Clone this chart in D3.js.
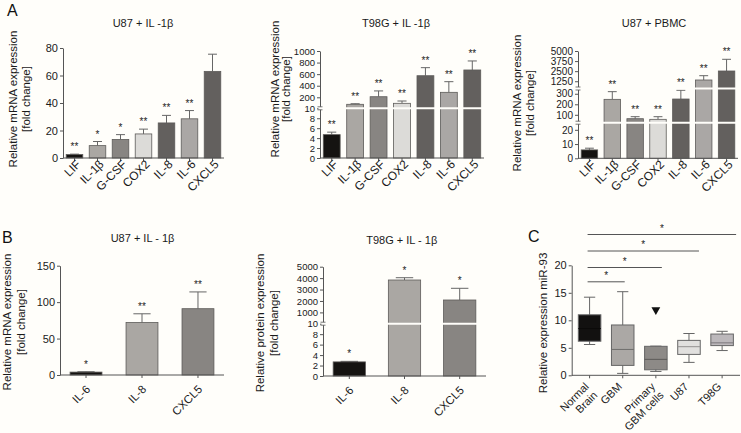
<!DOCTYPE html>
<html><head><meta charset="utf-8">
<script src="https://cdn.jsdelivr.net/npm/d3@7"></script>
<style>
body{margin:0;background:#fffefa;}
svg{display:block;font-family:"Liberation Sans",Arial,sans-serif;-webkit-font-smoothing:antialiased;}
</style></head><body>
<svg id="c" width="741" height="433"></svg>
<script>
// ---------------- DATA ----------------
const genesA = ["LIF","IL-1β","G-CSF","COX2","IL-8","IL-6","CXCL5"];
const u87IL1bMean = [2.5, 9, 13.5, 17.5, 25.5, 28.5, 63];
const u87IL1bSem  = [0.3, 3, 3.5, 3.5, 5.5, 6, 12.5];
const u87IL1bSig  = ["**","*","*","**","**","**",""];
const t98gIL1bMean = [4.7, 79, 210, 96, 573, 286, 672];
const t98gIL1bSem  = [0.5, 10, 100, 40, 139, 184, 156];
const t98gIL1bSig  = ["**","**","**","**","**","**","**"];
const u87PbmcMean = [5.9, 247, 63, 57, 250, 1404, 2520];
const u87PbmcSem  = [1.2, 73, 19, 25, 83, 533, 1451];
const u87PbmcSig  = ["**","**","**","**","**","**","**"];
const genesB = ["IL-6","IL-8","CXCL5"];
const u87MrnaMean = [4, 72, 91];
const u87MrnaSem  = [0.5, 12, 23];
const u87MrnaSig  = ["*","**","**"];
const t98gProtMean = [2.7, 3836, 2085];
const t98gProtSem  = [0.1, 200, 1024];
const t98gProtSig  = ["*","*","*"];
const ticksA1 = [0,20,40,60,80];
const ticksA2 = [0,2,4,6,8,10,200,400,600,800,1000];
const ticksA3 = [0,10,20,100,200,300,1250,2500,3750,5000];
const ticksB1 = [0,50,100,150];
const ticksB2 = [0,2,4,6,8,10,1000,2000,3000,4000,5000];
const groupsC = ["Normal\nBrain","GBM","Primary\nGBM cells","U87","T98G"];
const cMin = [5.6, 0.35, 0.7, 2.35, 4.5];
const cQ1  = [6.2, 1.8, 1.0, 3.8, 5.4];
const cMed = [8.5, 4.7, 2.9, 5.2, 5.9];
const cQ3  = [11.0, 9.15, 5.27, 6.35, 7.5];
const cMax = [14.2, 15.2, 5.3, 7.6, 8.0];
const cOutliers = [[],[],[11.9],[],[]];
const cCompTo = [1,2,3,4];
const cCompLevel = [17.0, 19.6, 22.6, 25.6];
const cCompSig = ["*","*","*","*"];
const ticksC = [0,5,10,15,20];

// ---------------- STYLE ----------------
const colA = ["#151311","#aaa7a3","#888582","#dcdbd8","#63605e","#aaa7a5","#63605e"];
const colB = ["#151311","#aaa7a3","#888582"];
const colC = ["#121110","#aba8a5","#8d8a87","#e1e0de","#bcb8bb"];
const AX = "#555", TXT = "#1a1a1a", BG = "#fffefa";

const svg = d3.select("#c");
svg.append("rect").attr("width",741).attr("height",433).attr("fill",BG);

function yAxis(g, y, x0, ticks, breaks, fs){
  const a = g.append("g").attr("transform",`translate(${x0},0)`)
    .call(d3.axisLeft(y).tickValues(ticks).tickSize(3).tickSizeOuter(0).tickFormat(d=>d).tickPadding(2));
  a.select(".domain").attr("stroke",AX);
  a.selectAll(".tick line").attr("stroke",AX);
  a.selectAll(".tick text").attr("fill",TXT).style("font-size",fs+"px").style("font-family","Liberation Sans, Arial");
  (breaks||[]).forEach(b=>{
    const yy = y(b);
    g.append("rect").attr("x",x0-1.5).attr("y",yy-1.5).attr("width",3).attr("height",3).attr("fill",BG);
    [-1.5,1.5].forEach(o=>g.append("line").attr("x1",x0-2.5).attr("x2",x0+2.5).attr("y1",yy+o).attr("y2",yy+o).attr("stroke",AX).attr("stroke-width",0.8));
  });
}
function xLabels(g, x, y0, cats, lab){
  cats.forEach(c=>{
    const lines = c.split("\n");
    const t = g.append("text")
      .attr("transform",`translate(${x(c)+x.bandwidth()/2+lab.dx},${y0+lab.dy}) rotate(-45)`)
      .attr("text-anchor","end").attr("fill",TXT).style("font-size",lab.fs+"px");
    lines.forEach((l,i)=>t.append("tspan").attr("x",0)
      .attr("dy", i===0 ? "0" : "1.1em").text(l));
  });
}
function yTitle(g, lines, cx, cy, gap){
  lines.forEach((l,i)=>g.append("text")
    .attr("transform",`translate(${cx+i*gap},${cy}) rotate(-90)`)
    .attr("text-anchor","middle").attr("dy","0.35em").attr("fill",TXT)
    .style("font-size","11.5px").text(l));
}
function title(g, t, x, y){
  g.append("text").attr("x",x).attr("y",y).attr("text-anchor","middle").attr("fill",TXT)
   .style("font-size","11px").text(t);
}
function barPanel(cfg){
  const g = svg.append("g");
  const x = d3.scaleBand().domain(cfg.cats).range([cfg.x0,cfg.x1]).paddingInner(cfg.pi).paddingOuter(cfg.po);
  const y = cfg.y, bw = x.bandwidth(), y0 = y(0);
  cfg.cats.forEach((c,i)=>{
    const m = cfg.mean[i], e = m + cfg.sem[i], cx = x(c)+bw/2;
    g.append("line").attr("x1",cx).attr("x2",cx).attr("y1",y(m)).attr("y2",y(e)).attr("stroke","#666").attr("stroke-width",1);
    g.append("line").attr("x1",cx-bw*0.27).attr("x2",cx+bw*0.27).attr("y1",y(e)).attr("y2",y(e)).attr("stroke","#666").attr("stroke-width",1);
    g.append("rect").attr("x",x(c)).attr("y",y(m)).attr("width",bw).attr("height",y0-y(m))
      .attr("fill",cfg.colors[i]).attr("stroke","#5d5b59").attr("stroke-width",0.8);
    if(cfg.sig[i]) g.append("text").attr("x",cx).attr("y",y(e)-4).attr("text-anchor","middle")
      .attr("fill","#222").style("font-size","10px").text(cfg.sig[i]);
  });
  (cfg.breaks||[]).forEach(b=>{
    g.append("line").attr("x1",cfg.x0+2).attr("x2",cfg.x1).attr("y1",y(b)).attr("y2",y(b))
      .attr("stroke",BG).attr("stroke-width",2);
  });
  const xa = g.append("g").attr("transform",`translate(0,${y0})`)
    .call(d3.axisBottom(x).tickSize(3).tickSizeOuter(0).tickFormat(""));
  xa.select(".domain").attr("stroke",AX).attr("d",`M${cfg.x0},0H${cfg.x1}`);
  xa.selectAll(".tick line").attr("stroke",AX);
  yAxis(g, y, cfg.x0, cfg.ticks, cfg.breaks, cfg.tfs);
  xLabels(g, x, y0, cfg.cats, cfg.lab);
  title(g, cfg.title, cfg.tx, cfg.ty);
  yTitle(g, cfg.ytitle, cfg.ycx, cfg.ycy, cfg.ygap);
}

const labA = {dx:7, dy:7, fs:12}, labB = {dx:5, dy:15, fs:11.5}, labC = {dx:0, dy:12, fs:11};

// Panel A
barPanel({cats:genesA, mean:u87IL1bMean, sem:u87IL1bSem, sig:u87IL1bSig, colors:colA,
  y:d3.scaleLinear().domain([0,80]).range([158,48]), ticks:ticksA1, lab:labA, tfs:11,
  x0:63, x1:224, pi:0.28, po:0.14, title:"U87 + IL -1β", tx:143, ty:27,
  ytitle:["Relative mRNA expression","[fold change]"], ycx:12.5, ycy:99, ygap:13});
barPanel({cats:genesA, mean:t98gIL1bMean, sem:t98gIL1bSem, sig:t98gIL1bSig, colors:colA,
  y:d3.scaleLinear().domain([0,10,1000]).range([158,108.3,51]), ticks:ticksA2, breaks:[10], lab:labA, tfs:9.5,
  x0:320, x1:484, pi:0.28, po:0.14, title:"T98G + IL -1β", tx:396, ty:27,
  ytitle:["Relative mRNA expression","[fold change]"], ycx:275, ycy:89, ygap:11});
barPanel({cats:genesA, mean:u87PbmcMean, sem:u87PbmcSem, sig:u87PbmcSig, colors:colA,
  y:d3.scaleLinear().domain([0,25,350,5000]).range([158.3,122.7,88.5,51]), ticks:ticksA3, breaks:[25,350], lab:labA, tfs:10,
  x0:578, x1:738, pi:0.28, po:0.14, title:"U87 + PBMC", tx:654, ty:27,
  ytitle:["Relative mRNA expression","[fold change]"], ycx:517, ycy:103, ygap:13});

// Panel B
barPanel({cats:genesB, mean:u87MrnaMean, sem:u87MrnaSem, sig:u87MrnaSig, colors:colB,
  y:d3.scaleLinear().domain([0,150]).range([375,265.7]), ticks:ticksB1, lab:labB, tfs:11,
  x0:60, x1:224, pi:0.43, po:0.18, title:"U87 + IL - 1β", tx:142.5, ty:242,
  ytitle:["Relative mRNA expression","[fold change]"], ycx:7, ycy:322, ygap:13.5});
barPanel({cats:genesB, mean:t98gProtMean, sem:t98gProtSem, sig:t98gProtSig, colors:colB,
  y:d3.scaleLinear().domain([0,10,5000]).range([376,323.7,266.7]), ticks:ticksB2, breaks:[10], lab:labB, tfs:9.5,
  x0:323, x1:486, pi:0.415, po:0.184, title:"T98G + IL - 1β", tx:401.7, ty:244,
  ytitle:["Relative protein expression","[fold change]"], ycx:260, ycy:323, ygap:13.5});

// Panel C
(function(){
  const g = svg.append("g");
  const x0 = 571.7, x1 = 740;
  const x = d3.scaleBand().domain(groupsC).range([x0,x1]).paddingInner(0.32).paddingOuter(0.2);
  const y = d3.scaleLinear().domain([0,20]).range([375.3,265.3]);
  const bw = x.bandwidth();
  groupsC.forEach((c,i)=>{
    const cx = x(c)+bw/2, cap = bw*0.25;
    g.append("line").attr("x1",cx).attr("x2",cx).attr("y1",y(cMin[i])).attr("y2",y(cMax[i])).attr("stroke","#666");
    [cMin[i],cMax[i]].forEach(v=>g.append("line").attr("x1",cx-cap).attr("x2",cx+cap).attr("y1",y(v)).attr("y2",y(v)).attr("stroke","#666"));
    g.append("rect").attr("x",x(c)).attr("y",y(cQ3[i])).attr("width",bw).attr("height",y(cQ1[i])-y(cQ3[i]))
      .attr("fill",colC[i]).attr("stroke","#666").attr("stroke-width",1);
    g.append("line").attr("x1",x(c)).attr("x2",x(c)+bw).attr("y1",y(cMed[i])).attr("y2",y(cMed[i]))
      .attr("stroke",d3.color(colC[i]).darker(1.2).formatHex());
    cOutliers[i].forEach(v=>g.append("path")
      .attr("d",d3.symbol(d3.symbolTriangle,34)()).attr("transform",`translate(${cx},${y(v)}) rotate(180)`).attr("fill","#111"));
  });
  const xa = g.append("g").attr("transform",`translate(0,${y(0)})`)
    .call(d3.axisBottom(x).tickSize(3).tickSizeOuter(0).tickFormat(""));
  xa.select(".domain").attr("stroke",AX).attr("d",`M${x0},0H${x1}`);
  xa.selectAll(".tick line").attr("stroke",AX);
  yAxis(g, y, x0, ticksC, [], 11);
  xLabels(g, x, y(0), groupsC, labC);
  const c0 = x(groupsC[0])+bw/2;
  cCompTo.forEach((j,k)=>{
    const xs = c0-2, xe = x(groupsC[j])+bw/2+2+4*(j-1), yy = y(cCompLevel[k]);
    g.append("line").attr("x1",xs).attr("x2",xe).attr("y1",yy).attr("y2",yy).attr("stroke","#555");
    g.append("text").attr("x",(xs+xe)/2).attr("y",yy-3).attr("text-anchor","middle").attr("fill","#222")
      .style("font-size","10px").text(cCompSig[k]);
  });
  yTitle(g, ["Relative expression miR-93"], 543, 323, 0);
})();

// Panel letters
[["A",7,16],["B",2,243],["C",528,242]].forEach(([t,x,y])=>
  svg.append("text").attr("x",x).attr("y",y).attr("fill","#111").style("font-size","16px").text(t));
</script>
</body></html>
